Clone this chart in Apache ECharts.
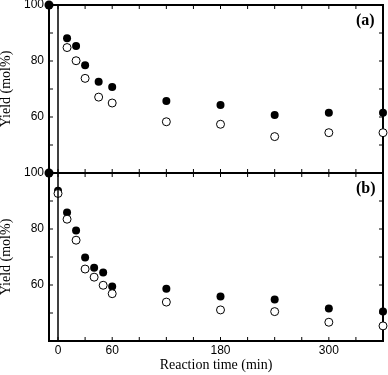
<!DOCTYPE html>
<html>
<head>
<meta charset="utf-8">
<script src="https://cdn.jsdelivr.net/npm/echarts@6/dist/echarts.min.js"></script>
<style>
  html, body { margin: 0; padding: 0; background: #fff; }
  #chart { width: 388px; height: 375px; }
</style>
</head>
<body>
<div id="chart"></div>
<script>
// reaction time (min) and yields (mol%)
const timesA = [10, 20, 30, 45, 60, 120, 180, 240, 300, 360]
const filledA = [88.1, 85.4, 78.5, 72.6, 70.7, 65.7, 64.3, 60.7, 61.5, 61.5]
const openA = [84.8, 80.1, 73.8, 67.1, 65.0, 58.3, 57.4, 53.0, 54.4, 54.4]

const timesB = [0, 10, 20, 30, 40, 50, 60, 120, 180, 240, 300, 360]
const filledB = [93.7, 85.9, 79.5, 69.8, 66.2, 64.5, 59.5, 58.7, 55.9, 54.8, 51.6, 50.5]
const openB = [92.7, 83.5, 76.0, 65.7, 62.8, 59.9, 56.9, 53.9, 51.1, 50.5, 46.7, 45.4]

// initial point sitting on the left frame
const startPoint = [-10, 100]

const xTicks = [0, 30, 60, 90, 120, 150, 180, 210, 240, 270, 300, 330, 360]
const xLabels = [0, 60, 180, 300]
const yTicks = [50, 60, 70, 80, 90]
const yLabels = [60, 80, 100]

const xMin = -10
const xMax = 360
const yMin = 40
const yMax = 100

const serif = 'Liberation Serif'
const sans = 'Liberation Sans'
const TICK = 4

const chart = echarts.init(document.getElementById('chart'))

function pairs(xs, ys) {
  return xs.map((x, i) => [x, ys[i]])
}

function xAxisFor(gridIndex, withLabels) {
  const axis = {
    type: 'value',
    gridIndex: gridIndex,
    min: xMin,
    max: xMax,
    axisLine: { show: true, onZero: false, lineStyle: { color: '#000', width: 2 } },
    axisTick: { show: false },
    axisLabel: { show: false },
    splitLine: { show: false }
  }
  if (withLabels) {
    axis.axisLabel = { show: true, customValues: xLabels, margin: 4, color: '#000', fontFamily: sans, fontSize: 12 }
    axis.name = 'Reaction time (min)'
    axis.nameLocation = 'middle'
    axis.nameGap = 16
    axis.nameTextStyle = { color: '#000', fontFamily: serif, fontSize: 14 }
  }
  return axis
}

function yAxisFor(gridIndex) {
  return {
    type: 'value',
    gridIndex: gridIndex,
    min: yMin,
    max: yMax,
    interval: 10,
    axisLine: { show: true, onZero: false, lineStyle: { color: '#000', width: 2 } },
    axisTick: { show: false },
    axisLabel: { show: true, customValues: yLabels, margin: 5, color: '#000', fontFamily: sans, fontSize: 12 },
    splitLine: { show: false },
    name: 'Yield (mol%)',
    nameLocation: 'middle',
    nameGap: 9,
    nameTextStyle: { color: '#000', fontFamily: serif, fontSize: 14 }
  }
}

// inward frame ticks, placed through the axes' own scales
function tickSeries(axisIdx) {
  const data = xTicks.map(v => ['x', v]).concat(yTicks.map(v => ['y', v]))
  return {
    type: 'custom',
    xAxisIndex: axisIdx,
    yAxisIndex: axisIdx,
    silent: true,
    clip: false,
    z: 1,
    dimensions: ['kind', 'value'],
    encode: { x: -1, y: -1 },
    data: data,
    renderItem: function (params, api) {
      const kind = data[params.dataIndex][0]
      const v = data[params.dataIndex][1]
      const style = { stroke: '#000', lineWidth: 1 }
      let a, b
      if (kind === 'x') {
        a = api.coord([v, yMin])
        b = api.coord([v, yMax])
        return {
          type: 'group',
          children: [
            { type: 'line', shape: { x1: a[0], y1: a[1], x2: a[0], y2: a[1] - TICK }, style: style },
            { type: 'line', shape: { x1: b[0], y1: b[1], x2: b[0], y2: b[1] + TICK }, style: style }
          ]
        }
      }
      a = api.coord([xMin, v])
      b = api.coord([xMax, v])
      return {
        type: 'group',
        children: [
          { type: 'line', shape: { x1: a[0], y1: a[1], x2: a[0] + TICK, y2: a[1] }, style: style },
          { type: 'line', shape: { x1: b[0], y1: b[1], x2: b[0] - TICK, y2: b[1] }, style: style }
        ]
      }
    }
  }
}

function panelSeries(axisIdx, times, filled, open) {
  const filledStyle = { color: '#000', opacity: 1 }
  const openStyle = { color: '#fff', borderColor: '#000', borderWidth: 1, opacity: 1 }
  return [
    tickSeries(axisIdx),
    {
      type: 'scatter',
      xAxisIndex: axisIdx,
      yAxisIndex: axisIdx,
      symbolSize: 8,
      itemStyle: filledStyle,
      data: pairs(times, filled),
      z: 3,
      markLine: {
        silent: true,
        symbol: ['none', 'none'],
        label: { show: false },
        lineStyle: { color: '#000', width: 1.5, type: 'solid' },
        data: [{ xAxis: 0 }]
      }
    },
    {
      type: 'scatter',
      xAxisIndex: axisIdx,
      yAxisIndex: axisIdx,
      symbolSize: 8,
      itemStyle: openStyle,
      data: pairs(times, open),
      z: 4
    },
    {
      type: 'scatter',
      xAxisIndex: axisIdx,
      yAxisIndex: axisIdx,
      symbolSize: 9,
      clip: false,
      itemStyle: filledStyle,
      data: [startPoint],
      z: 5
    }
  ]
}

const option = {
  animation: false,
  backgroundColor: '#fff',
  grid: [
    { left: 49, right: 5, top: 5, height: 168, outerBoundsMode: 'none', show: true, borderColor: '#000', borderWidth: 2, backgroundColor: 'transparent' },
    { left: 49, right: 5, top: 173, height: 168, outerBoundsMode: 'none', show: true, borderColor: '#000', borderWidth: 2, backgroundColor: 'transparent' }
  ],
  xAxis: [xAxisFor(0, false), xAxisFor(1, true)],
  yAxis: [yAxisFor(0), yAxisFor(1)],
  graphic: [
    { type: 'text', left: 356, top: 13, style: { text: '(a)', font: 'bold 16px "Liberation Serif"', fill: '#000' } },
    { type: 'text', left: 356, top: 181, style: { text: '(b)', font: 'bold 16px "Liberation Serif"', fill: '#000' } }
  ],
  series: [].concat(
    panelSeries(0, timesA, filledA, openA),
    panelSeries(1, timesB, filledB, openB)
  )
}

chart.setOption(option)
</script>
</body>
</html>
